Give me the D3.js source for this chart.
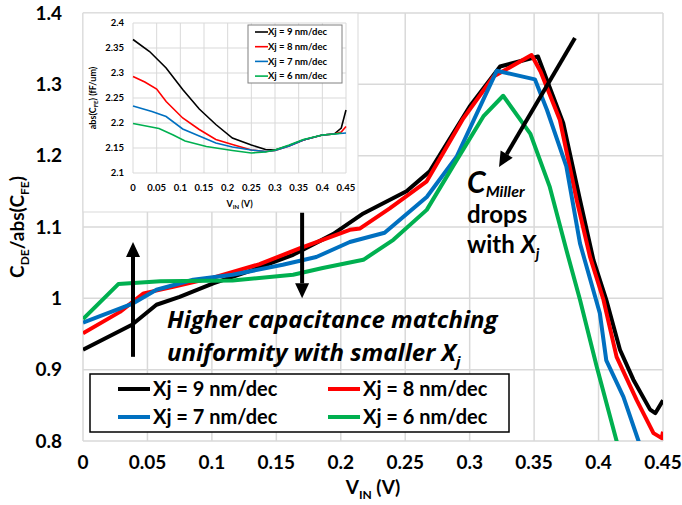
<!DOCTYPE html>
<html>
<head>
<meta charset="utf-8">
<script src="https://cdn.jsdelivr.net/npm/d3@7"></script>
<style>
  body { margin: 0; background: #fff; }
  svg text { font-family: Lato, "Open Sans", sans-serif; font-weight: bold; fill: #000; }
</style>
</head>
<body>
<svg id="chart" width="682" height="505"></svg>
<script>
// main chart data: [V_IN, C_DE/abs(C_FE)]
var xj9Main = [[0,0.928],[0.038,0.963],[0.057,0.991],[0.075,1.002],[0.101,1.021],[0.132,1.04],[0.163,1.061],[0.194,1.09],[0.2175,1.119],[0.251,1.15],[0.269,1.178],[0.300,1.269],[0.3236,1.325],[0.353,1.339],[0.3727,1.245],[0.3856,1.138],[0.396,1.054],[0.406,0.998],[0.4166,0.928],[0.427,0.886],[0.44,0.844],[0.444,0.839],[0.45,0.857]];
var xj8Main = [[0,0.951],[0.0287,0.981],[0.047,1.007],[0.07,1.016],[0.101,1.029],[0.137,1.048],[0.168,1.07],[0.207,1.096],[0.215,1.098],[0.238,1.126],[0.2667,1.164],[0.295,1.252],[0.3185,1.311],[0.348,1.341],[0.355,1.318],[0.37,1.25],[0.383,1.138],[0.3934,1.058],[0.4038,0.998],[0.414,0.918],[0.4297,0.857],[0.4426,0.811],[0.449,0.804],[0.45,0.813]];
var xj7Main = [[0,0.966],[0.039,0.993],[0.057,1.012],[0.0855,1.026],[0.116,1.033],[0.155,1.047],[0.181,1.058],[0.207,1.079],[0.234,1.092],[0.2667,1.142],[0.29,1.199],[0.321,1.319],[0.3506,1.307],[0.36,1.264],[0.375,1.185],[0.3856,1.077],[0.401,0.979],[0.406,0.913],[0.4193,0.862],[0.431,0.80],[0.437,0.77]];
var xj6Main = [[0,0.971],[0.0274,1.02],[0.06,1.024],[0.116,1.025],[0.163,1.033],[0.186,1.0425],[0.2175,1.054],[0.2408,1.082],[0.2667,1.124],[0.287,1.185],[0.3106,1.255],[0.326,1.284],[0.347,1.231],[0.362,1.157],[0.375,1.068],[0.3856,0.998],[0.3986,0.904],[0.414,0.80],[0.42,0.76]];

// inset data: [V_IN, abs(C_FE) fF/um]
var xj9Inset = [[0,2.367],[0.035,2.343],[0.07,2.31],[0.105,2.267],[0.14,2.228],[0.175,2.197],[0.21,2.17],[0.25,2.156],[0.28,2.147],[0.3,2.146],[0.33,2.155],[0.36,2.166],[0.4,2.176],[0.425,2.178],[0.44,2.19],[0.45,2.226]];
var xj8Inset = [[0,2.293],[0.025,2.282],[0.05,2.268],[0.07,2.243],[0.105,2.21],[0.14,2.187],[0.175,2.167],[0.21,2.157],[0.25,2.146],[0.28,2.143],[0.3,2.145],[0.33,2.154],[0.36,2.166],[0.4,2.176],[0.425,2.178],[0.44,2.182],[0.45,2.193]];
var xj7Inset = [[0,2.234],[0.04,2.223],[0.07,2.213],[0.105,2.188],[0.14,2.174],[0.175,2.16],[0.21,2.152],[0.25,2.146],[0.28,2.143],[0.3,2.145],[0.33,2.154],[0.36,2.166],[0.4,2.176],[0.425,2.178],[0.45,2.18]];
var xj6Inset = [[0,2.199],[0.055,2.189],[0.085,2.176],[0.11,2.164],[0.155,2.153],[0.21,2.145],[0.25,2.14],[0.28,2.142],[0.3,2.146],[0.33,2.156],[0.36,2.167],[0.4,2.176],[0.425,2.178],[0.44,2.18]];

var seriesNames = ['Xj = 9 nm/dec', 'Xj = 8 nm/dec', 'Xj = 7 nm/dec', 'Xj = 6 nm/dec'];
var seriesColors = ['#000000', '#ff0000', '#0070c0', '#00b050'];

var xTicks = [0, 0.05, 0.1, 0.15, 0.2, 0.25, 0.3, 0.35, 0.4, 0.45];
var yTicks = [0.8, 0.9, 1, 1.1, 1.2, 1.3, 1.4];
var insetYTicks = [2.1, 2.15, 2.2, 2.25, 2.3, 2.35, 2.4];

var svg = d3.select('#chart');

var x = d3.scaleLinear().domain([0, 0.45]).range([83, 663]);
var y = d3.scaleLinear().domain([0.8, 1.4]).range([441, 13]);

// grid
svg.append('g').selectAll('line').data(xTicks).enter().append('line')
  .attr('x1', function(d){ return x(d); }).attr('x2', function(d){ return x(d); })
  .attr('y1', y(1.4)).attr('y2', y(0.8))
  .attr('stroke', '#d9d9d9').attr('stroke-width', 1.5);
svg.append('g').selectAll('line').data(yTicks).enter().append('line')
  .attr('x1', x(0)).attr('x2', x(0.45))
  .attr('y1', function(d){ return y(d); }).attr('y2', function(d){ return y(d); })
  .attr('stroke', '#d9d9d9').attr('stroke-width', 1.5);

// tick labels
svg.append('g').selectAll('text').data(yTicks).enter().append('text')
  .attr('x', 62).attr('y', function(d){ return y(d); })
  .attr('dy', '0.35em').attr('text-anchor', 'end')
  .style('font-size', '19px')
  .text(function(d){ return d3.format('')(d); });
svg.append('g').selectAll('text').data(xTicks).enter().append('text')
  .attr('x', function(d){ return x(d); }).attr('y', 462)
  .attr('dy', '0.35em').attr('text-anchor', 'middle')
  .style('font-size', '19px')
  .text(function(d){ return d3.format('')(d); });

// axis titles
var xt = svg.append('text').attr('x', x(0.225)).attr('y', 494)
  .attr('text-anchor', 'middle').style('font-size', '19px');
xt.append('tspan').text('V');
xt.append('tspan').attr('dy', 5).style('font-size', '12px').text('IN');
xt.append('tspan').attr('dy', -5).text(' (V)');

var yt = svg.append('text').attr('transform', 'translate(24,' + y(1.1) + ') rotate(-90)')
  .attr('text-anchor', 'middle').style('font-size', '19px');
yt.append('tspan').text('C');
yt.append('tspan').attr('dy', 5).style('font-size', '12px').text('DE');
yt.append('tspan').attr('dy', -5).text('/abs(C');
yt.append('tspan').attr('dy', 5).style('font-size', '12px').text('FE');
yt.append('tspan').attr('dy', -5).text(')');

// main lines
svg.append('clipPath').attr('id', 'plotclip').append('rect')
  .attr('x', x(0)).attr('y', y(1.4)).attr('width', x(0.45) - x(0)).attr('height', y(0.8) - y(1.4));

var line = d3.line().x(function(d){ return x(d[0]); }).y(function(d){ return y(d[1]); });
var mainSeries = [xj9Main, xj8Main, xj7Main, xj6Main];
svg.append('g').attr('clip-path', 'url(#plotclip)')
  .selectAll('path').data(mainSeries).enter().append('path')
  .attr('d', line).attr('fill', 'none')
  .attr('stroke', function(d, i){ return seriesColors[i]; })
  .attr('stroke-width', 4).attr('stroke-linejoin', 'round');

// inset
var ix = d3.scaleLinear().domain([0, 0.45]).range([133, 346]);
var iy = d3.scaleLinear().domain([2.1, 2.4]).range([173, 23]);
var inset = svg.append('g');
inset.append('rect').attr('x', 83).attr('y', 13).attr('width', 275).attr('height', 199)
  .attr('fill', '#fff').attr('stroke', '#d9d9d9').attr('stroke-width', 1);
inset.append('g').selectAll('line').data(xTicks).enter().append('line')
  .attr('x1', function(d){ return ix(d); }).attr('x2', function(d){ return ix(d); })
  .attr('y1', iy(2.4)).attr('y2', iy(2.1))
  .attr('stroke', '#d9d9d9').attr('stroke-width', 1);
inset.append('g').selectAll('line').data(insetYTicks).enter().append('line')
  .attr('x1', ix(0)).attr('x2', ix(0.45))
  .attr('y1', function(d){ return iy(d); }).attr('y2', function(d){ return iy(d); })
  .attr('stroke', '#d9d9d9').attr('stroke-width', 1);
inset.append('g').selectAll('text').data(insetYTicks).enter().append('text')
  .attr('x', 124).attr('y', function(d){ return iy(d); })
  .attr('dy', '0.35em').attr('text-anchor', 'end')
  .style('font-size', '9.5px')
  .text(function(d){ return d3.format('')(d); });
inset.append('g').selectAll('text').data(xTicks).enter().append('text')
  .attr('x', function(d){ return ix(d); }).attr('y', 188)
  .attr('dy', '0.35em').attr('text-anchor', 'middle')
  .style('font-size', '9.5px')
  .text(function(d){ return d3.format('')(d); });
var ixt = inset.append('text').attr('x', ix(0.225)).attr('y', 207)
  .attr('text-anchor', 'middle').style('font-size', '9px');
ixt.append('tspan').text('V');
ixt.append('tspan').attr('dy', 2).style('font-size', '6px').text('IN');
ixt.append('tspan').attr('dy', -2).text(' (V)');
var iyt = inset.append('text').attr('transform', 'translate(96,' + iy(2.25) + ') rotate(-90)')
  .attr('text-anchor', 'middle').style('font-size', '9px');
iyt.append('tspan').text('abs(C');
iyt.append('tspan').attr('dy', 2).style('font-size', '6px').text('FE');
iyt.append('tspan').attr('dy', -2).text(') (fF/um)');

var iline = d3.line().x(function(d){ return ix(d[0]); }).y(function(d){ return iy(d[1]); });
var insetSeries = [xj9Inset, xj8Inset, xj7Inset, xj6Inset];
inset.append('g').selectAll('path').data(insetSeries).enter().append('path')
  .attr('d', iline).attr('fill', 'none')
  .attr('stroke', function(d, i){ return seriesColors[i]; })
  .attr('stroke-width', 1.6);

// inset legend
var il = inset.append('g');
il.append('rect').attr('x', 248).attr('y', 25).attr('width', 94).attr('height', 58)
  .attr('fill', '#fff').attr('stroke', '#808080').attr('stroke-width', 1);
seriesNames.forEach(function(name, i) {
  var yy = 32 + i * 14.7;
  il.append('line').attr('x1', 255).attr('x2', 268).attr('y1', yy).attr('y2', yy)
    .attr('stroke', seriesColors[i]).attr('stroke-width', 1.6);
  il.append('text').attr('x', 268).attr('y', yy).attr('dy', '0.35em')
    .style('font-size', '9.5px').text(name);
});

// annotations
function arrow(x1, y1, x2, y2) {
  var ang = Math.atan2(y2 - y1, x2 - x1);
  var hl = 15, hw = 7;
  var bx = x2 - hl * Math.cos(ang), by = y2 - hl * Math.sin(ang);
  svg.append('line').attr('x1', x1).attr('y1', y1).attr('x2', bx).attr('y2', by)
    .attr('stroke', '#000').attr('stroke-width', 4);
  var px = -Math.sin(ang) * hw, py = Math.cos(ang) * hw;
  svg.append('path')
    .attr('d', 'M' + x2 + ',' + y2 + 'L' + (bx + px) + ',' + (by + py) + 'L' + (bx - px) + ',' + (by - py) + 'Z')
    .attr('fill', '#000');
}
arrow(x(0.0388), y(0.918), x(0.0388), y(1.079));
arrow(x(0.17), y(1.12), x(0.17), y(1.0));
arrow(x(0.3817), y(1.365), x(0.3228), y(1.184));

var t1 = svg.append('text').attr('x', 167).attr('y', 328)
  .style('font-family', '"Open Sans", sans-serif')
  .style('font-size', '24px').style('font-style', 'italic')
  .text('Higher capacitance matching');
var t2 = svg.append('text').attr('x', 167).attr('y', 361)
  .style('font-family', '"Open Sans", sans-serif')
  .style('font-size', '24px').style('font-style', 'italic');
t2.append('tspan').text('uniformity with smaller X');
t2.append('tspan').attr('dy', 6).style('font-size', '15px').text('j');

var cm = svg.append('text').attr('x', 467).attr('y', 193).style('font-size', '24px');
cm.append('tspan').style('font-style', 'italic').style('font-size', '30px').text('C');
cm.append('tspan').attr('dy', 4).style('font-style', 'italic').style('font-size', '16px').text('Miller');
svg.append('text').attr('x', 467).attr('y', 223).style('font-size', '24px').text('drops');
var wx = svg.append('text').attr('x', 467).attr('y', 253).style('font-size', '24px');
wx.append('tspan').text('with ');
wx.append('tspan').style('font-style', 'italic').text('X');
wx.append('tspan').attr('dy', 6).style('font-style', 'italic').style('font-size', '15px').text('j');

// main legend
var lg = svg.append('g');
lg.append('rect').attr('x', 90).attr('y', 374).attr('width', 419).attr('height', 58)
  .attr('fill', '#fff').attr('stroke', '#000').attr('stroke-width', 1.5);
seriesNames.forEach(function(name, i) {
  var lx = i % 2 === 0 ? 118 : 328;
  var ly = i < 2 ? 389 : 417;
  lg.append('line').attr('x1', lx).attr('x2', lx + 32).attr('y1', ly).attr('y2', ly)
    .attr('stroke', seriesColors[i]).attr('stroke-width', 4);
  lg.append('text').attr('x', lx + 35).attr('y', ly).attr('dy', '0.35em')
    .style('font-size', '20px').text(name);
});
</script>
</body>
</html>
